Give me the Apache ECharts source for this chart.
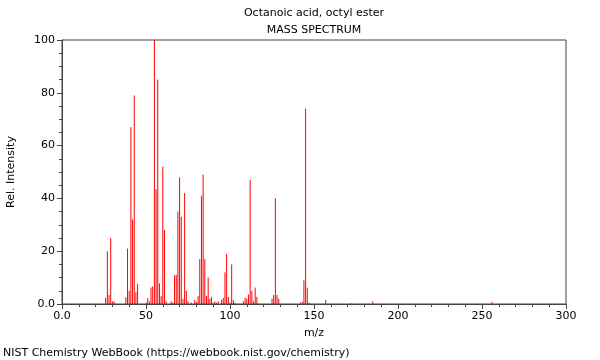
<!DOCTYPE html>
<html>
<head>
<meta charset="utf-8">
<script src="https://cdn.jsdelivr.net/npm/echarts@6/dist/echarts.min.js"></script>
<style>html,body{margin:0;padding:0;background:#fff}#c{width:600px;height:360px}</style>
</head>
<body>
<div id="c"></div>
<script>
const mz = [26,27,28,29,30,31,38,39,40,41,42,43,44,45,50,51,52,53,54,55,56,57,58,59,60,61,62,65,66,67,68,69,70,71,72,73,74,75,77,79,80,81,82,83,84,85,86,87,88,89,90,91,92,93,95,96,97,98,99,100,101,102,103,108,109,110,111,112,113,114,115,116,125,126,127,128,129,142,143,144,145,146,147,157,172,185,256];
const intensity = [2.4,20,3.4,25,1,1,2.5,21,5,67,32,79,4.4,7.6,0.5,2.2,1,6.2,6.7,100,43.5,85,7.8,3,52,28,1,1,0.5,11,11,35,48,33,2,42,5,1,0.5,1.5,0.8,3,17,41,49,17,3,10,2,2.7,0.5,1,0.5,1,1.6,2.3,12,19,2.7,0.5,15,1.5,0.5,1,2.4,2,3.6,47,5,1,6.2,2.7,2,3.4,40,3.4,2,0.5,0.8,9,74,6.2,0.5,1.5,0.3,1,0.8];
const titleLines = ["Octanoic acid, octyl ester", "MASS SPECTRUM"];
const xName = "m/z";
const yName = "Rel. Intensity";
const footer = "NIST Chemistry WebBook (https://webbook.nist.gov/chemistry)";

const data = mz.map((m, i) => [m, intensity[i]]);
const font = "DejaVu Sans";
const chart = echarts.init(document.getElementById('c'), null, {renderer: 'canvas'});
const fmt = v => v === 0 ? '0.0' : String(v);
chart.setOption({
  animation: false,
  grid: {left: 62, top: 40, right: 34, bottom: 56, show: true, borderColor: '#444', borderWidth: 1,
         containLabel: false, outerBoundsMode: 'none'},
  xAxis: {
    type: 'value', min: 0, max: 300, interval: 50,
    axisLine: {show: true, lineStyle: {color: '#444'}},
    axisTick: {show: true, length: 5, inside: false, lineStyle: {color: '#444'}},
    minorTick: {show: true, splitNumber: 5, length: 3, lineStyle: {color: '#444'}},
    splitLine: {show: false},
    axisLabel: {formatter: fmt, color: '#000', fontFamily: font, fontSize: 11, margin: 7},
    name: xName, nameLocation: 'middle', nameGap: 24,
    nameTextStyle: {color: '#000', fontFamily: font, fontSize: 11}
  },
  yAxis: {
    type: 'value', min: 0, max: 100, interval: 20,
    axisLine: {show: true, lineStyle: {color: '#444'}},
    axisTick: {show: true, length: 5, lineStyle: {color: '#444'}},
    minorTick: {show: true, splitNumber: 4, length: 3, lineStyle: {color: '#444'}},
    splitLine: {show: false},
    axisLabel: {formatter: fmt, color: '#000', fontFamily: font, fontSize: 11, margin: 7},
    name: yName, nameLocation: 'middle', nameGap: 45,
    nameTextStyle: {color: '#000', fontFamily: font, fontSize: 11}
  },
  graphic: [
    {type: 'text', x: 314, y: 13, style: {text: titleLines[0], fill: '#000', font: '11px "DejaVu Sans"', textAlign: 'center', textVerticalAlign: 'middle'}},
    {type: 'text', x: 314, y: 30, style: {text: titleLines[1], fill: '#000', font: '11px "DejaVu Sans"', textAlign: 'center', textVerticalAlign: 'middle'}},
    {type: 'text', x: 3, y: 353, style: {text: footer, fill: '#000', font: '11px "DejaVu Sans"', textAlign: 'left', textVerticalAlign: 'middle'}}
  ],
  series: [{
    type: 'custom',
    data: data,
    clip: true,
    renderItem: function (params, api) {
      const p0 = api.coord([api.value(0), 0]);
      const p1 = api.coord([api.value(0), api.value(1)]);
      return {type: 'line', shape: {x1: p0[0], y1: p0[1], x2: p1[0], y2: p1[1]},
        style: {stroke: '#ff0000', lineWidth: 1}};
    }
  }]
});
</script>
</body>
</html>
